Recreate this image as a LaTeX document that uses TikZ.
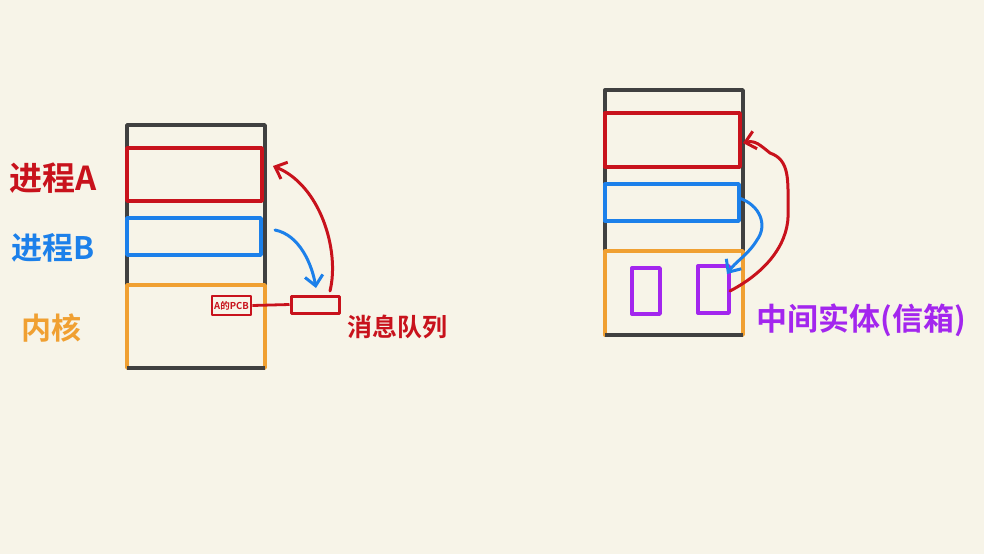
\documentclass[tikz,border=0pt]{standalone}
\usepackage{fontspec}
\newfontfamily\cjk{Noto Sans CJK SC}[BoldFont={Noto Sans CJK SC Bold}]
\usetikzlibrary{arrows.meta}
\definecolor{bg}{HTML}{F7F4E8}
\definecolor{rd}{HTML}{C8121C}
\definecolor{bl}{HTML}{1C80EA}
\definecolor{og}{HTML}{F0A032}
\definecolor{pp}{HTML}{A326EE}
\definecolor{dk}{HTML}{404040}
\tikzset{
  frame/.style={draw=dk, line width=3.4pt, line join=round},
  box/.style={line width=3.4pt, line join=round},
  lbl/.style={font=\cjk\bfseries, inner sep=0pt},
  arr/.style={line width=3pt, line cap=round, -{Straight Barb[length=10pt,width=18pt,line width=3pt]}}
}
\begin{document}
\begin{tikzpicture}[x=1pt,y=-1pt]
\fill[bg] (0,0) rectangle (984,554);
\useasboundingbox (0,0) rectangle (984,554);
% ---------- left ----------
\draw[frame] (127,368) -- (127,125) -- (265,125) -- (265,368);
\draw[box, draw=og] (127,285) rectangle (265,368);
\draw[frame] (127,368) -- (265,368);
\draw[box, draw=rd] (127,148) rectangle (262,201);
\draw[box, draw=bl] (127,218) rectangle (261,255);
\node[box, draw=rd, line width=2.8pt, minimum width=39pt, minimum height=19pt, inner sep=0pt, font=\cjk\bfseries\fontsize{9.5}{10}\selectfont, text=rd] (pcbA) at (231.5,305.5) {A的PCB};
\node[box, draw=rd, line width=3pt, minimum width=48pt, minimum height=17pt, inner sep=0pt] (queueL) at (315,304.5) {};
\draw[rd, line width=2.8pt] (pcbA.east) -- (queueL.west);
\coordinate (bstartL) at (275,230);
\coordinate (rstartL) at (330,291);
\coordinate (rendL) at (273,166);
\draw[arr, draw=bl] (bstartL) .. controls (300,235) and (312,265) .. (316,288);
\draw[arr, draw=rd] (rstartL) .. controls (340,250) and (320,185) .. (rendL);
\node[lbl, text=rd, font=\cjk\bfseries\fontsize{33}{35}\selectfont] (pa) at (53,178) {进程A};
\node[lbl, text=bl, font=\cjk\bfseries\fontsize{31}{33}\selectfont] (pb) at (53,248) {进程B};
\node[lbl, text=og, font=\cjk\bfseries\fontsize{30}{32}\selectfont] (kern) at (51,328) {内核};
\node[lbl, text=rd, font=\cjk\bfseries\fontsize{25}{27}\selectfont] (mq) at (397,327) {消息队列};
% ---------- right ----------
\draw[frame] (605,335) -- (605,90) -- (743,90) -- (743,335);
\draw[box, draw=og] (605,251) rectangle (743,335);
\draw[frame] (605,335) -- (743,335);
\draw[box, draw=rd] (605,113) rectangle (740,167);
\draw[box, draw=bl] (605,184) rectangle (739,221);
\node[box, draw=pp, minimum width=28pt, minimum height=46pt, inner sep=0pt] (mb1) at (646,291) {};
\node[box, draw=pp, minimum width=31pt, minimum height=47pt, inner sep=0pt] (mb2) at (713.5,289.5) {};
\coordinate (bstartR) at (739,198);
\coordinate (rstartR) at (730,291);
\coordinate (rendR) at (743,143);
\draw[arr, draw=bl] (bstartR) .. controls (760,205) and (768,225) .. (757,240) .. controls (748,255) and (735,262) .. (727,274);
\draw[arr, draw=rd] (rstartR) .. controls (770,270) and (790,240) .. (788,210) .. controls (788,180) and (790,160) .. (770,153) .. controls (760,145) and (755,140) .. (rendR);
\node[lbl, text=pp, font=\cjk\bfseries\fontsize{31}{33}\selectfont] (mbox) at (861,320) {中间实体(信箱)};
\end{tikzpicture}
\end{document}
